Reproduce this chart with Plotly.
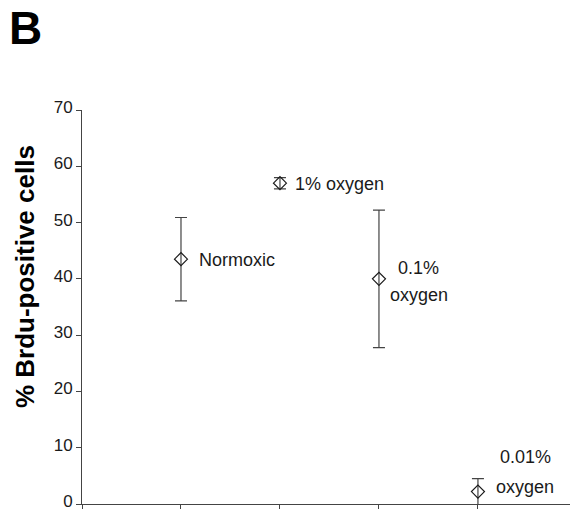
import plotly.graph_objects as go

# Brdu incorporation under different oxygen tensions
conditions = ["Normoxic", "1% oxygen", "0.1% oxygen", "0.01% oxygen"]
positions = [1, 2, 3, 4]
brdu_pct = [43.5, 57.0, 40.0, 2.2]
brdu_err = [7.4, 1.0, 12.2, 2.3]
y_ticks = [0, 10, 20, 30, 40, 50, 60, 70]

FONT = "Liberation Sans, Arial, sans-serif"
INK = "#1a1a1a"

fig = go.Figure()
fig.add_trace(go.Scatter(
    x=positions, y=brdu_pct,
    mode="markers",
    marker=dict(symbol="diamond-open", size=10, color=INK, line=dict(width=1.2, color=INK)),
    error_y=dict(type="data", array=brdu_err, visible=True, color="#444", thickness=1.2, width=6),
    showlegend=False, cliponaxis=False,
))

# Condition labels beside each point
labels = [
    (1.16, 43.4, "Normoxic", "left", "middle"),
    (2.13, 56.9, "1% oxygen", "left", "middle"),
    (3.40, 42.0, "0.1%", "center", "middle"),
    (3.40, 37.1, "oxygen", "center", "middle"),
    (4.48, 8.3, "0.01%", "center", "middle"),
    (4.48, 3.1, "oxygen", "center", "middle"),
]
for x, y, t, xa, ya in labels:
    fig.add_annotation(x=x, y=y, text=t, showarrow=False, xanchor=xa, yanchor=ya,
                       font=dict(family=FONT, size=18, color=INK))

# Y-axis title, set a little above the axis midpoint
fig.add_annotation(xref="paper", yref="paper", x=-0.118, y=0.577,
                   text="<b>% Brdu-positive cells</b>", textangle=-90, showarrow=False,
                   xanchor="center", yanchor="middle",
                   font=dict(family=FONT, size=26, color="#000"))

# Panel letter
fig.add_annotation(xref="paper", yref="paper", x=-0.152, y=1.277, text="<b>B</b>",
                   showarrow=False, xanchor="left", yanchor="top", borderpad=0,
                   font=dict(family=FONT, size=46, color="#000"))

fig.update_layout(
    width=570, height=509,
    margin=dict(l=82, r=0, t=110, b=5, autoexpand=False),
    paper_bgcolor="white", plot_bgcolor="white",
    font=dict(family=FONT, color=INK),
    xaxis=dict(range=[0, 4.93], tickvals=[0, 1, 2, 3, 4], ticks="outside", ticklen=6,
               tickcolor="#444", showticklabels=False, showgrid=False, zeroline=False,
               showline=True, linecolor="#444", linewidth=1, automargin=False),
    yaxis=dict(range=[0, 70], tickvals=y_ticks, ticks="outside", ticklen=5,
               tickcolor="#444", showgrid=False, zeroline=False, showline=True,
               linecolor="#444", linewidth=1, tickfont=dict(size=17, color=INK),
               ticklabeloverflow="allow", ticklabelshift=-3, automargin=False),
)

fig.write_html("out.html")
